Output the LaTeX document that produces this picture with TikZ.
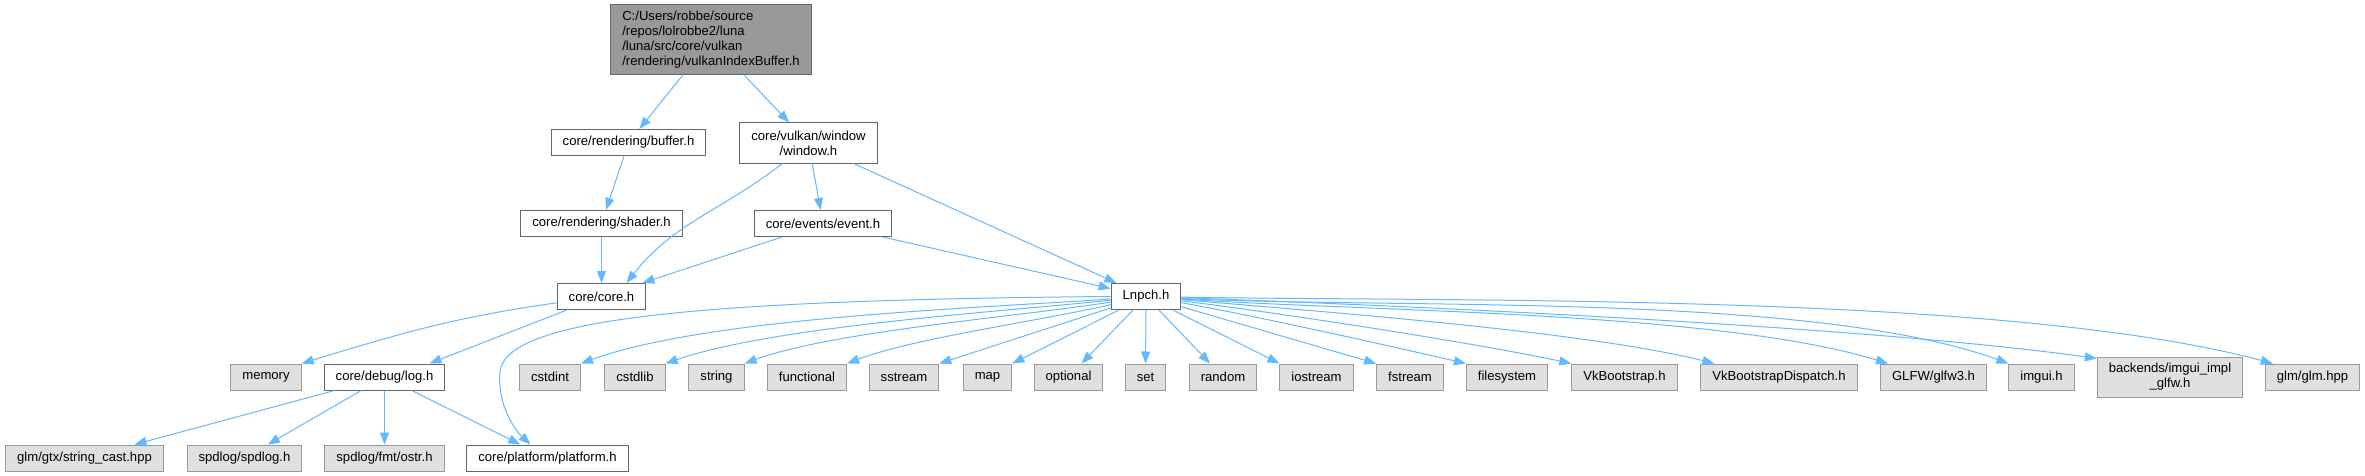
\documentclass[tikz,border=0pt]{standalone}
\usepackage{fontspec}
\setmainfont{Liberation Sans}
\usetikzlibrary{arrows.meta}
\definecolor{edgeblue}{HTML}{63B8FF}
\definecolor{sysfill}{HTML}{E0E0E0}
\definecolor{sysline}{HTML}{999999}
\definecolor{hdrline}{HTML}{666666}

\begin{document}
\begin{tikzpicture}[x=1pt, y=1pt,
  hdr/.style={draw=hdrline, fill=white, rectangle, line width=1pt,
              minimum height=26pt, inner xsep=11.5pt, inner ysep=2pt,
              align=center, font=\fontsize{13.1}{15}\selectfont},
  sys/.style={hdr, draw=sysline, fill=sysfill},
  rootfile/.style={hdr, fill=sysline, align=left, minimum height=70pt},
  arr/.style={-{Triangle[length=12pt,width=9pt]}, line width=1pt, edgeblue},
]
\useasboundingbox (0,0) rectangle (2365,-476);

%% Project headers
\node[rootfile] (root)   at (711,-40)
  {C:/Users/robbe/source\\/repos/lolrobbe2/luna\\/luna/src/core/vulkan\\/rendering/vulkanIndexBuffer.h};
\node[hdr] (buffer)   at (628.5,-142.5) {core/rendering/buffer.h};
\node[hdr, minimum height=40pt] (window) at (808.5,-143) {core/vulkan/window\\/window.h};
\node[hdr] (shader)   at (601.5,-223.5) {core/rendering/shader.h};
\node[hdr] (event)    at (823,-223.5)   {core/events/event.h};
\node[hdr] (core)     at (601.5,-296.5) {core/core.h};
\node[hdr] (lnpch)    at (1146,-296.5)  {Lnpch.h};
\node[hdr] (log)      at (384.5,-377)   {core/debug/log.h};
\node[hdr] (platform) at (547.5,-458)   {core/platform/platform.h};

%% System / external headers
\node[sys] (memory)     at (266,-377)    {memory};
\node[sys] (cstdint)    at (550,-377)    {cstdint};
\node[sys] (cstdlib)    at (635,-377)    {cstdlib};
\node[sys] (str)        at (716.5,-377)  {string};
\node[sys] (functional) at (807,-377)    {functional};
\node[sys] (sstream)    at (904,-377)    {sstream};
\node[sys] (map)        at (987.5,-377)  {map};
\node[sys] (optional)   at (1068.5,-377) {optional};
\node[sys] (set)        at (1145.5,-377) {set};
\node[sys] (random)     at (1223,-377)   {random};
\node[sys] (iostream)   at (1316.5,-377) {iostream};
\node[sys] (fstream)    at (1410,-377)   {fstream};
\node[sys] (filesystem) at (1507,-377)   {filesystem};
\node[sys] (vkb)        at (1624.5,-377) {VkBootstrap.h};
\node[sys] (vkbd)       at (1779,-377)   {VkBootstrapDispatch.h};
\node[sys] (glfw)       at (1933.5,-377) {GLFW/glfw3.h};
\node[sys] (imgui)      at (2041.5,-377) {imgui.h};
\node[sys, minimum height=40pt] (backends) at (2170,-377) {backends/imgui\_impl\\\_glfw.h};
\node[sys] (glm)        at (2312.5,-377) {glm/glm.hpp};
\node[sys] (strcast)    at (84.5,-458)   {glm/gtx/string\_cast.hpp};
\node[sys] (spdlog)     at (244.5,-458)  {spdlog/spdlog.h};
\node[sys] (ostr)       at (384.5,-458)  {spdlog/fmt/ostr.h};

%% Upper part
\draw[arr] (root) -- (buffer);
\draw[arr] (root) -- (window);
\draw[arr] (buffer) -- (shader);
\draw[arr] (shader) -- (core);
\draw[arr] (window) to[out=-142,in=52] ([xshift=25pt]core.north);
\draw[arr] (window) -- (event);
\draw[arr] (window) -- (lnpch);
\draw[arr] (event) -- (core);
\draw[arr] (event) -- (lnpch);

%% core.h and log.h
\draw[arr] (core) to[out=188,in=17] (memory.north east);
\draw[arr] (core) -- ([xshift=45pt]log.north);
\draw[arr] (log) -- (strcast);
\draw[arr] (log) -- (spdlog);
\draw[arr] (log) -- (ostr);
\draw[arr] (log) -- (platform);

%% Lnpch.h, left side
\draw[arr] (lnpch.west) .. controls (700,-300) and (505,-318) .. (500,-372)
  .. controls (497,-405) and (515,-430) .. ([xshift=-17pt]platform.north);
\draw[arr] (lnpch.184) .. controls +(184:135) and +(20:135) .. (cstdint.north east);
\draw[arr] (lnpch.186) .. controls +(186:115) and +(19:115) .. (cstdlib.north east);
\draw[arr] (lnpch.189) .. controls +(189:95) and +(20:95) .. (str.north east);
\draw[arr] (lnpch.193) .. controls +(193:70) and +(21:70) .. (functional.north east);
\draw[arr] (lnpch) -- (sstream.north east);
\draw[arr] (lnpch) -- (map.north east);
\draw[arr] (lnpch) -- (optional);
\draw[arr] (lnpch) -- (set);

%% Lnpch.h, right side
\draw[arr] (lnpch) -- (random);
\draw[arr] (lnpch) -- (iostream.north west);
\draw[arr] (lnpch) -- (fstream.north west);
\draw[arr] (lnpch.-10) .. controls +(-10:75) and +(167:75) .. (filesystem.north west);
\draw[arr] (lnpch.-7) .. controls +(-7:100) and +(168:100) .. (vkb.north west);
\draw[arr] (lnpch.-5) .. controls +(-5:135) and +(166:135) .. ([xshift=14pt]vkbd.north west);
\draw[arr] (lnpch.-4) .. controls +(-4:180) and +(163:180) .. ([xshift=8pt]glfw.north west);
\draw[arr] (lnpch.-3) .. controls +(-3:210) and +(160:210) .. (imgui.north west);
\draw[arr] (lnpch.-2) .. controls +(-2:230) and +(172:230) .. ([yshift=-2pt]backends.north west);
\draw[arr] (lnpch.-1) .. controls +(-1:275) and +(165:275) .. ([xshift=8pt]glm.north west);
\end{tikzpicture}
\end{document}
